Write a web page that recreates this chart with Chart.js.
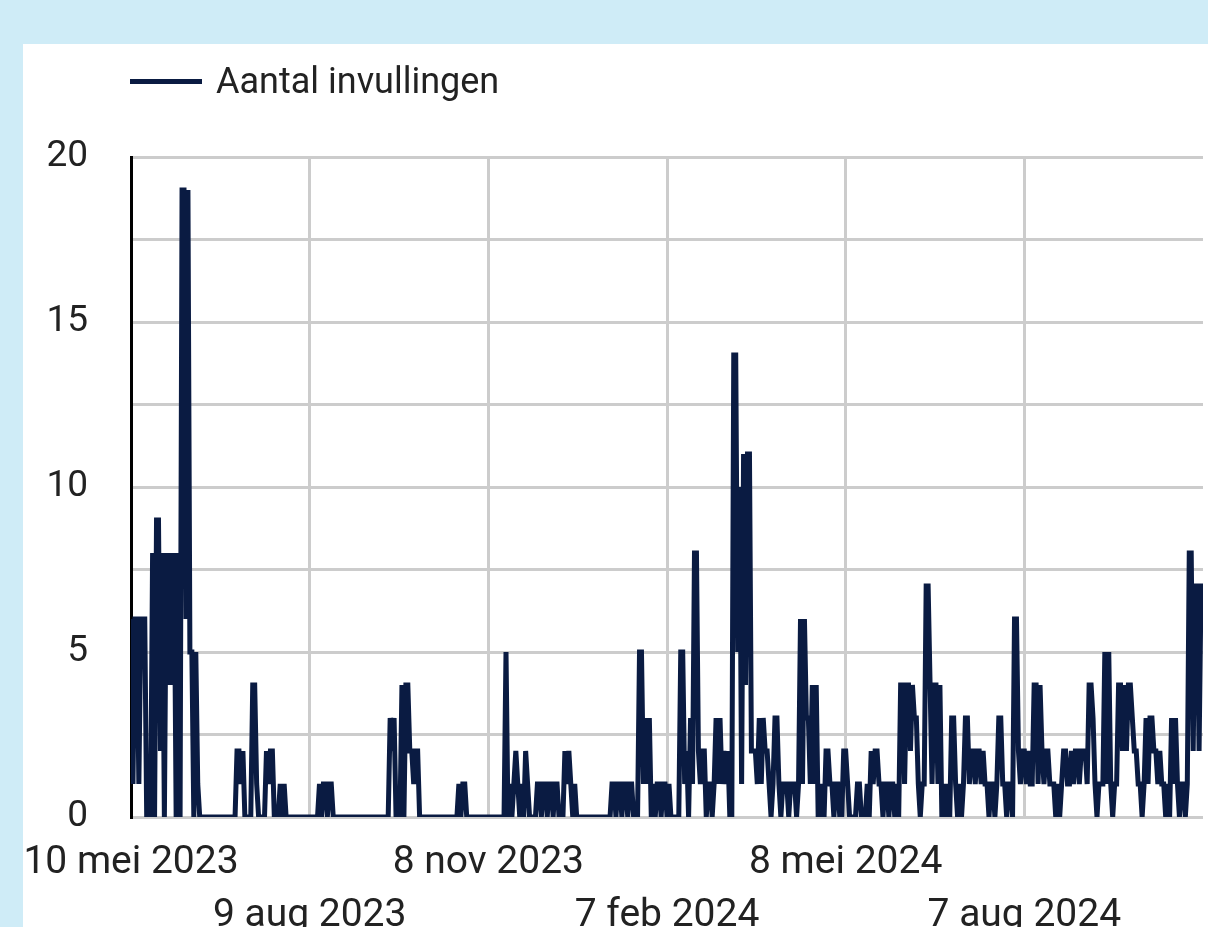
<!DOCTYPE html>
<html lang="nl">
<head>
<meta charset="utf-8">
<title>Aantal invullingen</title>
<script src="https://cdn.jsdelivr.net/npm/chart.js@4.4.1/dist/chart.umd.min.js"></script>
<style>
    body { margin: 0; background: #cfecf7; font-family: Roboto, sans-serif; }
    #card { position: absolute; left: 23px; top: 44px; width: 1185px; height: 883px; background: #fff; overflow: hidden; }
    #legend { position: absolute; left: 107px; top: 19px; height: 37px; line-height: 37px; font-size: 36px; color: #222; white-space: nowrap; }
    #legend .swatch { position: absolute; left: 0; top: 16px; width: 72px; height: 5px; background: #0a1b42; }
    #legend .label { position: absolute; left: 86px; top: 0; }
    #chart { position: absolute; left: 0; top: 0; }
</style>
</head>
<body>
<div id="card">
    <canvas id="chart" width="1185" height="883"></canvas>
    <div id="legend"><div class="swatch"></div><span class="label">Aantal invullingen</span></div>
</div>
<script>
// one value per day, day 0 = 10 mei 2023
const invullingen = [
    6,1,6,6,1,6,6,6,0,0,
    0,8,0,9,9,2,8,0,8,4,
    8,4,8,0,8,0,19,19,6,19,
    5,5,0,5,1,0,0,0,0,0,
    0,0,0,0,0,0,0,0,0,0,
    0,0,0,0,2,2,1,2,0,0,
    0,0,4,4,1,0,0,0,0,2,
    1,2,2,0,0,0,1,0,1,0,
    0,0,0,0,0,0,0,0,0,0,
    0,0,0,0,0,0,1,0,1,1,
    0,1,1,0,0,0,0,0,0,0,   // 100
    0,0,0,0,0,0,0,0,0,0,
    0,0,0,0,0,0,0,0,0,0,
    0,0,3,2,3,0,0,0,4,0,
    4,4,2,2,1,2,2,0,0,0,
    0,0,0,0,0,0,0,0,0,0,
    0,0,0,0,0,0,0,1,0,1,
    1,0,0,0,0,0,0,0,0,0,
    0,0,0,0,0,0,0,0,0,0,
    0,5,0,1,0,1,2,1,0,1,
    0,2,1,0,0,0,0,1,1,0,   // 200
    1,1,0,1,1,0,1,1,0,0,
    0,2,1,2,1,0,1,0,0,0,
    0,0,0,0,0,0,0,0,0,0,
    0,0,0,0,0,1,1,0,1,1,
    0,1,1,0,1,1,0,0,0,5,
    5,1,3,1,3,0,1,0,1,1,
    0,1,1,0,1,0,0,0,0,0,
    5,5,1,2,0,3,1,8,8,2,
    1,2,2,0,1,1,0,1,3,1,
    3,1,2,1,2,0,0,14,14,5, // 300
    10,1,11,4,11,11,2,2,2,1,
    3,1,3,2,2,1,0,1,3,3,
    1,0,1,1,1,0,1,1,1,0,
    1,6,1,6,3,3,1,4,1,4,
    0,0,1,0,2,2,1,1,0,1,
    1,0,0,2,2,1,0,0,0,0,
    1,1,0,0,0,1,0,2,1,2,
    2,1,1,0,1,1,0,1,1,0,
    1,0,4,4,1,4,4,2,4,3,
    3,1,0,1,1,7,7,4,1,4,   // 400
    4,1,4,0,1,0,1,0,3,3,
    1,0,1,0,1,3,3,1,2,2,
    1,2,2,1,2,1,1,0,1,1,
    0,1,3,3,1,1,0,1,1,0,
    6,6,2,1,2,2,1,2,1,1,
    4,4,1,4,2,1,2,2,1,1,
    1,0,1,0,1,2,2,1,1,2,
    1,2,2,1,2,2,2,1,4,4,
    3,1,0,1,1,1,5,1,5,1,
    0,1,1,4,4,2,4,2,4,4,   // 500
    3,2,2,1,1,0,1,3,1,3,
    3,2,2,1,2,1,1,0,1,0,
    3,1,3,1,0,1,1,0,1,8,
    8,2,7,7,2,7,7
];

const tickDays = [0, 91, 182, 273, 364, 455];
const tickLabels = ["10 mei 2023", "9 aug 2023", "8 nov 2023", "7 feb 2024", "8 mei 2024", "7 aug 2024"];

const points = invullingen.map((v, i) => ({ x: i, y: v }));

new Chart(document.getElementById("chart"), {
    type: "line",
    data: {
        datasets: [{
            label: "Aantal invullingen",
            data: points,
            borderColor: "#0a1b42",
            borderWidth: 5,
            pointRadius: 0,
            fill: false,
            tension: 0
        }]
    },
    options: {
        responsive: false,
        animation: false,
        devicePixelRatio: 1,
        layout: { padding: { top: 113, right: 5, left: 0, bottom: 0 } },
        plugins: { legend: { display: false }, tooltip: { enabled: false } },
        scales: {
            x: {
                type: "linear",
                min: 0,
                max: invullingen.length - 1,
                afterBuildTicks: s => { s.ticks = tickDays.map(v => ({ value: v })); },
                // fixed height, and let the first label hang over the y axis
                afterFit: s => { s.height = 110; s.paddingLeft = 0; s.paddingRight = 0; },
                grid: { color: "#cccccc", lineWidth: 3, drawTicks: false },
                border: { display: false },
                ticks: {
                    autoSkip: false,
                    maxRotation: 0,
                    padding: 19.5,
                    color: "#222",
                    font: { family: "Roboto", size: 39, lineHeight: 53 / 39 },
                    // staggered labels: even ones on the first row, odd ones on the second
                    callback: (v, i) => i % 2 === 0 ? [tickLabels[i], ""] : ["", tickLabels[i]]
                }
            },
            y: {
                min: 0,
                max: 20,
                afterFit: s => { s.width = 108; s.paddingTop = 0; s.paddingBottom = 0; },
                grid: { color: "#cccccc", lineWidth: 3, drawTicks: false },
                border: { color: "#000", width: 3 },
                ticks: {
                    stepSize: 2.5,
                    padding: 43,
                    color: "#222",
                    font: { family: "Roboto", size: 37 },
                    callback: v => v % 5 === 0 ? String(v) : ""
                }
            }
        }
    }
});
</script>
</body>
</html>
